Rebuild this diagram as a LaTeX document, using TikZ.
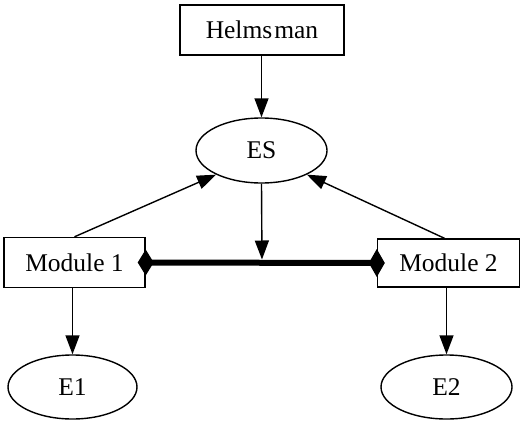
\documentclass[tikz,border=0pt]{standalone}
\usepackage{fontspec}
\setmainfont{Liberation Serif}
\usetikzlibrary{shapes.geometric,arrows.meta}
\begin{document}
\begin{tikzpicture}[x=1pt,y=-1pt,
  every node/.style={font=\fontsize{25.5}{30}\selectfont, inner sep=0pt},
  box/.style={draw, line width=1.4pt, rectangle},
  oval/.style={draw, line width=1.4pt, ellipse},
  conn/.style={line width=1.4pt, -{Triangle[length=19pt,width=14pt]}},
  bond/.style={line width=6pt}]
\useasboundingbox (0,0) rectangle (521,420);
\node[box, minimum width=164pt, minimum height=50pt] (H) at (262,30) {Helms\kern2pt man};
\node[oval, minimum width=131pt, minimum height=65pt] (ES) at (261.5,150.5) {ES};
\node[box, minimum width=141pt, minimum height=50pt] (M1) at (74.5,262.5) {Module 1};
\node[box, minimum width=142pt, minimum height=48pt] (M2) at (448.5,263) {Module 2};
\node[oval, minimum width=129pt, minimum height=64pt] (E1) at (72.5,387) {E1};
\node[oval, minimum width=131pt, minimum height=64pt] (E2) at (446.5,387) {E2};
\coordinate (mid) at (262,262.5);
\draw[conn] (ES.north |- H.south) -- (ES.north);
\draw[conn] (M1.north) -- (ES.208);
\draw[conn] ([xshift=-4pt]M2.north) -- (ES.332);
\draw[conn, shorten >=3pt] (ES.south) -- (mid);
\draw[conn] (E1.north |- M1.south) -- (E1.north);
\draw[conn] (E2.north |- M2.south) -- (E2.north);
\draw[bond] (M1.east) -- (M2.west);
\fill[shift={(M1.east)}] (-8,0) -- (0,13) -- (8,0) -- (0,-13) -- cycle;
\fill[shift={(M2.west)}] (-8,0) -- (0,14) -- (8,0) -- (0,-14) -- cycle;
\end{tikzpicture}
\end{document}
